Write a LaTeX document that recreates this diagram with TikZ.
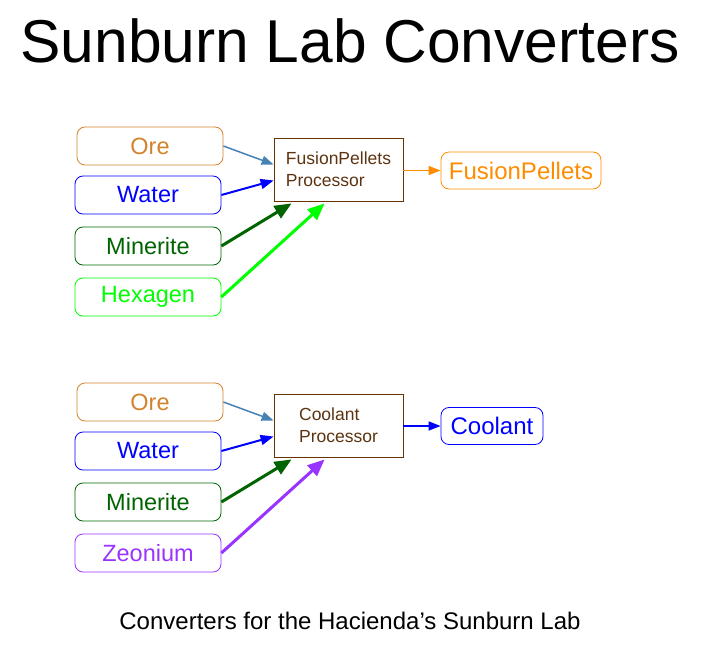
\documentclass[tikz,border=0pt]{standalone}
\usepackage{fontspec}
\setmainfont{Liberation Sans}
\usetikzlibrary{arrows.meta}
\definecolor{orec}{HTML}{D2822D}
\definecolor{orearr}{HTML}{4682B4}
\definecolor{waterc}{HTML}{0000FF}
\definecolor{minc}{HTML}{006400}
\definecolor{hexc}{HTML}{00FF00}
\definecolor{zeoc}{HTML}{9933FF}
\definecolor{procb}{HTML}{663300}
\definecolor{proct}{HTML}{5C3310}
\definecolor{fpc}{HTML}{FF8C00}
\tikzset{
  inbox/.style={draw, rounded corners=8pt, minimum width=146pt, minimum height=38pt, inner sep=0pt, font=\fontsize{23.5}{28}\selectfont, line width=0.8pt},
  procbox/.style={draw=procb, text=proct, minimum width=129pt, minimum height=63pt, align=left, inner sep=0pt, font=\fontsize{17.5}{22}\selectfont, line width=0.8pt},
  outbox/.style={draw, rounded corners=8pt, minimum height=37pt, inner sep=0pt, font=\fontsize{24}{28}\selectfont, line width=0.8pt},
  thinarr/.style={line width=1.5pt, -{Triangle[length=12pt,width=9pt]}},
  medarr/.style={line width=2pt, -{Triangle[length=13pt,width=10pt]}},
  thickarr/.style={line width=3pt, -{Triangle[length=17pt,width=14pt]}},
}
\begin{document}
\begin{tikzpicture}[x=1pt,y=-1pt]
\useasboundingbox (0,0) rectangle (701,647);
\node[font=\fontsize{60.5}{70}\selectfont] (title) at (350,41) {Sunburn Lab Converters};
% top group
\node[inbox, draw=orec, text=orec] (ore1) at (150,146) {Ore};
\node[inbox, draw=waterc, text=waterc] (water1) at (148,195) {Water};
\node[inbox, draw=minc, text=minc] (min1) at (148,246) {Minerite};
\node[inbox, draw=hexc, text=hexc] (hex1) at (148,297) {Hexagen};
\node[procbox] (proc1) at (338.5,169.5) {FusionPellets\\Processor};
\node[outbox, draw=fpc, text=fpc, minimum width=160pt] (fp) at (521,170.5) {FusionPellets};
\draw[thinarr, orearr] (ore1.east) -- ([yshift=5pt]proc1.west);
\draw[medarr, waterc] (water1.east) -- ([yshift=-11pt]proc1.west);
\draw[thickarr, minc] (min1.east) -- ([xshift=18pt,yshift=-2pt]proc1.south west);
\draw[thickarr, hexc] (hex1.east) -- ([xshift=51pt,yshift=-2pt]proc1.south west);
\draw[thinarr, fpc] (proc1.east |- fp.west) -- (fp.west);
% bottom group
\node[inbox, draw=orec, text=orec] (ore2) at (150,402) {Ore};
\node[inbox, draw=waterc, text=waterc] (water2) at (148,451) {Water};
\node[inbox, draw=minc, text=minc] (min2) at (148,502) {Minerite};
\node[inbox, draw=zeoc, text=zeoc] (zeo2) at (148,553) {Zeonium};
\node[procbox] (proc2) at (338.5,425.5) {Coolant\\Processor};
\node[outbox, draw=waterc, text=waterc, minimum width=102pt] (cool) at (492,426) {Coolant};
\draw[thinarr, orearr] (ore2.east) -- ([yshift=5pt]proc2.west);
\draw[medarr, waterc] (water2.east) -- ([yshift=-11pt]proc2.west);
\draw[thickarr, minc] (min2.east) -- ([xshift=18pt,yshift=-2pt]proc2.south west);
\draw[thickarr, zeoc] (zeo2.east) -- ([xshift=51pt,yshift=-2pt]proc2.south west);
\draw[thinarr, waterc] (proc2.east |- cool.west) -- (cool.west);
\node[font=\fontsize{24}{28}\selectfont] (cap) at (350,621) {Converters for the Hacienda’s Sunburn Lab};
\end{tikzpicture}
\end{document}
